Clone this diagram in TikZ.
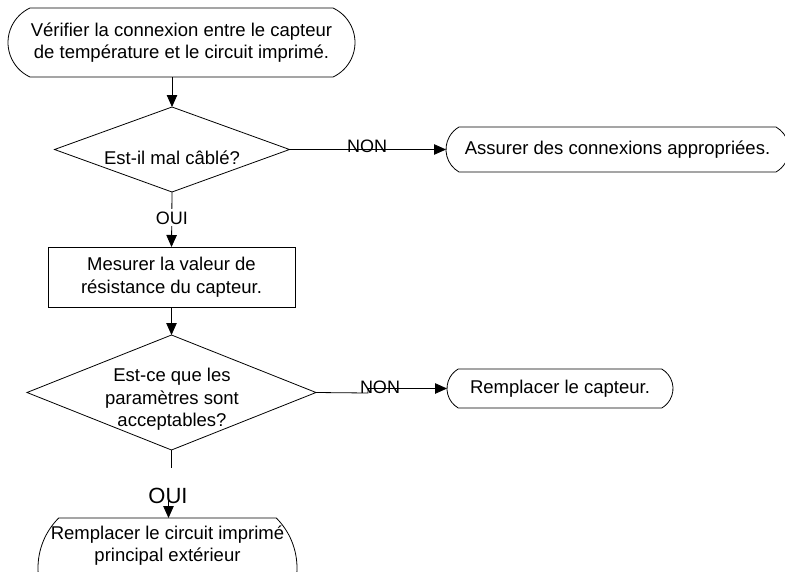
\documentclass[tikz,border=0pt]{standalone}
\usepackage{fontspec}
\setmainfont{Liberation Sans}
\usetikzlibrary{shapes.geometric,shapes.misc,arrows.meta}
\begin{document}
\begin{tikzpicture}[x=1pt,y=-1pt,
  every node/.style={inner sep=0pt, outer sep=0pt},
  txt/.style={font=\fontsize{18.5}{22.5}\selectfont, align=center},
  lbl/.style={font=\fontsize{18}{20}\selectfont},
  biglbl/.style={font=\fontsize{22}{24}\selectfont},
  term/.style={draw, rounded rectangle, rounded rectangle arc length=#1,
    line width=0.8pt},
  term/.default=120,
  decision/.style={draw, diamond, line width=0.8pt},
  box/.style={draw, rectangle, line width=0.8pt},
  link/.style={line width=0.8pt},
  arrow/.style={link, -{Triangle[length=12pt,width=10.5pt]}}
]
\useasboundingbox (0,0) rectangle (785,571);
\clip (0,0) rectangle (785,571);

% start
\node[term=130, txt, minimum width=347, minimum height=69] (t1) at (181.5,42.5)
  {V\'erifier la connexion entre le capteur\\ de temp\'erature et le circuit imprim\'e.};

% first question
\node[decision, minimum width=235, minimum height=85] (d1) at (172,149.5) {};
\node[txt] (d1txt) at (172,158) {Est-il mal c\^abl\'e?};

% wiring fix
\node[term, txt, minimum width=343, minimum height=45] (t2) at (617.5,149.5)
  {Assurer des connexions appropri\'ees.};

% measurement
\node[box, txt, minimum width=247, minimum height=60] (r1) at (171.5,277)
  {Mesurer la valeur de\\r\'esistance du capteur.};

% second question
\node[decision, minimum width=289, minimum height=115] (d2) at (171.5,392.5) {};
\node[txt] (d2txt) at (172,399.5) {Est-ce que les\\param\`etres sont\\acceptables?};

% sensor replacement
\node[term, txt, minimum width=226, minimum height=39] (t3) at (560,388.5)
  {Remplacer le capteur.};

% board replacement
\node[term=90, minimum width=259, minimum height=100] (t4) at (167.5,568) {};
\node[txt] (t4txt) at (167.5,545.5) {Remplacer le circuit imprim\'e\\principal ext\'erieur};

% connectors
\draw[arrow] (d1.north |- t1.south) -- (d1.north);

\draw[arrow] (d1.east) -- (t2.west);
\node[lbl] (non1) at (367,146) {NON};

\draw[arrow] (d1.south) -- node[lbl, fill=white, inner ysep=2pt, pos=0.47] (oui1) {OUI} (r1.north);

\draw[arrow] (r1.south) -- (d2.north);

\coordinate (k2) at (368,393);
\draw[arrow] (d2.east) -- (k2) |- (t3.west);
\node[lbl] (non2) at (380,387) {NON};

\coordinate (d2stub) at (171.5,468);
\draw[link] (d2.south) -- (d2stub);
\node[biglbl] (oui2) at (168,496) {OUI};
\coordinate (a2) at (168.5,489);
\draw[arrow] (a2) -- (a2 |- t4.north);
\end{tikzpicture}
\end{document}
